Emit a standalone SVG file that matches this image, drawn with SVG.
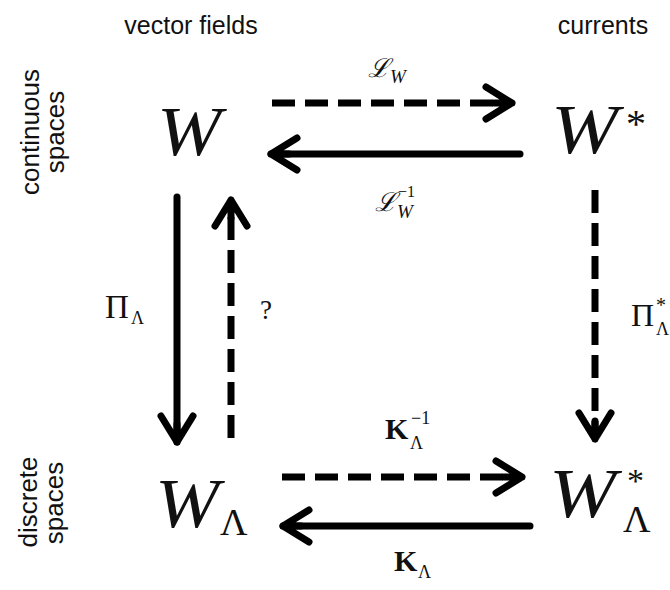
<svg xmlns="http://www.w3.org/2000/svg" width="670" height="590" viewBox="0 0 670 590">
<defs>
<style>
.hdr{font-family:"Liberation Sans",Arial,sans-serif;font-size:25px;fill:#111}
.side{font-family:"Liberation Sans",Arial,sans-serif;font-size:26px;fill:#111}
.W{font-family:"Liberation Serif","Times New Roman",serif;font-style:italic;font-size:70px;fill:#111}
.up{font-family:"Liberation Serif","Times New Roman",serif;fill:#111}
.it{font-family:"Liberation Serif","Times New Roman",serif;font-style:italic;fill:#111}
.scr{font-family:"DejaVu Serif","Liberation Serif",serif;font-style:italic;fill:#111}
.bold{font-family:"Liberation Serif","Times New Roman",serif;font-weight:bold;fill:#111}
.solid{stroke:#000;stroke-width:7;fill:none;stroke-linecap:round}
.dash{stroke:#000;stroke-width:7;fill:none;stroke-dasharray:23 10}
</style>
<marker id="ah" markerUnits="userSpaceOnUse" markerWidth="40" markerHeight="40" viewBox="-34 -20 40 40" refX="0" refY="0" orient="auto">
<path d="M-26,-16 L0,0 L-26,16 M0,0 L-18,0" stroke="#000" stroke-width="7" fill="none" stroke-linecap="round" stroke-linejoin="round"/>
</marker>
</defs>
<rect width="670" height="590" fill="#fff"/>

<g id="headers">
<text class="hdr" x="191" y="34" text-anchor="middle">vector fields</text>
<text class="hdr" x="603" y="34" text-anchor="middle">currents</text>
<text class="side" transform="translate(39,132) rotate(-90)" text-anchor="middle">continuous</text>
<text class="side" transform="translate(64,132) rotate(-90)" text-anchor="middle">spaces</text>
<text class="side" transform="translate(37,502) rotate(-90)" text-anchor="middle">discrete</text>
<text class="side" transform="translate(63,503) rotate(-90)" text-anchor="middle">spaces</text>
</g>

<g id="node-W">
<text class="W" transform="translate(157,155) scale(1.1,1)">W</text>
</g>
<g id="node-Wstar">
<text class="W" transform="translate(551,153) scale(1.15,1)">W</text>
<text class="up" x="626" y="137" font-size="40">*</text>
</g>
<g id="node-WL">
<text class="W" transform="translate(155,527) scale(1.1,1)">W</text>
<text class="up" x="220" y="535" font-size="38">Λ</text>
</g>
<g id="node-WLstar">
<text class="W" transform="translate(549,517) scale(1.15,1)">W</text>
<text class="up" x="627" y="492" font-size="34">*</text>
<text class="up" x="623" y="532" font-size="38">Λ</text>
</g>

<g id="connectors">
<line class="dash" x1="272" y1="103" x2="512" y2="103" marker-end="url(#ah)"/>
<line class="solid" x1="520" y1="154" x2="271" y2="154" marker-end="url(#ah)"/>
<line class="solid" x1="177" y1="197" x2="177" y2="442" marker-end="url(#ah)"/>
<line class="dash" x1="231" y1="438" x2="231" y2="200" marker-end="url(#ah)"/>
<line class="dash" x1="595" y1="190" x2="595" y2="439" marker-end="url(#ah)"/>
<line class="dash" x1="282" y1="477" x2="522" y2="477" marker-end="url(#ah)"/>
<line class="solid" x1="530" y1="526" x2="283" y2="526" marker-end="url(#ah)"/>
</g>

<g id="labels">
<text class="scr" x="368" y="77" font-size="26">ℒ</text>
<text class="it" x="390" y="83" font-size="19">W</text>
<text class="scr" x="375" y="211" font-size="26">ℒ</text>
<text class="it" x="397" y="218" font-size="19">W</text>
<text class="up" x="398" y="197" font-size="16">−1</text>
<text class="up" x="105" y="318" font-size="33">Π</text>
<text class="up" x="131" y="324" font-size="18">Λ</text>
<text class="up" x="260" y="319" font-size="27">?</text>
<text class="up" x="631" y="326" font-size="32">Π</text>
<text class="up" x="656" y="312" font-size="20">*</text>
<text class="up" x="656" y="335" font-size="18">Λ</text>
<text class="bold" x="385" y="439" font-size="30">K</text>
<text class="up" x="410" y="449" font-size="18">Λ</text>
<text class="up" x="411" y="424" font-size="18">−1</text>
<text class="bold" x="394" y="571" font-size="30">K</text>
<text class="up" x="418" y="578" font-size="18">Λ</text>
</g>
</svg>
